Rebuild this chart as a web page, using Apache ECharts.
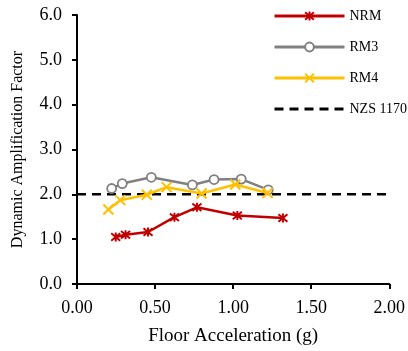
<!DOCTYPE html>
<html><head><meta charset="utf-8">
<script src="https://cdn.jsdelivr.net/npm/echarts@6/dist/echarts.min.js"></script>
<style>html,body{margin:0;padding:0;background:#fff}#c{width:408px;height:351px}</style>
</head><body><div id="c"></div>
<script>
const nrmX = [0.248, 0.311, 0.455, 0.624, 0.768, 1.027, 1.319];
const nrmY = [1.05, 1.10, 1.16, 1.49, 1.71, 1.53, 1.47];
const rm3X = [0.222, 0.290, 0.476, 0.739, 0.878, 1.052, 1.225];
const rm3Y = [2.13, 2.24, 2.38, 2.21, 2.33, 2.34, 2.10];
const rm4X = [0.201, 0.277, 0.447, 0.574, 0.798, 1.014, 1.221];
const rm4Y = [1.66, 1.87, 1.99, 2.16, 2.02, 2.22, 2.03];
const nzsX = [0, 2];
const nzsY = [2.0, 2.0];
const seriesNames = ['NRM', 'RM3', 'RM4', 'NZS 1170.5'];

const zip = (a, b) => a.map((v, i) => [v, b[i]]);
const font = 'Liberation Serif';
const chart = echarts.init(document.getElementById('c'));
const starPath = 'path://M0,0L10,10M10,0L0,10M5,-1L5,11';
const xPath = 'path://M0,0L10,10M10,0L0,10';
chart.setOption({
  animation: false,
  textStyle: {fontFamily: font},
  grid: {left: 77, right: 16, top: 15, bottom: 64, containLabel: false},
  legend: {
    orient: 'vertical', left: 273, top: 9, padding: 0, itemWidth: 70, itemHeight: 11, itemGap: 17,
    textStyle: {fontFamily: font, fontSize: 14, color: '#000'},
    lineStyle: {width: 3},
    data: seriesNames
  },
  xAxis: {
    type: 'value', min: 0, max: 2, interval: 0.5,
    name: 'Floor Acceleration (g)', nameLocation: 'middle', nameGap: 43,
    nameTextStyle: {fontFamily: font, fontSize: 19, color: '#000'},
    axisLine: {show: true, lineStyle: {color: '#000', width: 2}},
    axisTick: {show: true, length: 5, lineStyle: {color: '#000', width: 2}},
    axisLabel: {fontFamily: font, fontSize: 18, color: '#000', margin: 15, formatter: v => v.toFixed(2)},
    splitLine: {show: false}
  },
  yAxis: {
    type: 'value', min: 0, max: 6, interval: 1,
    name: 'Dynamic Amplification Factor', nameLocation: 'middle', nameGap: 51,
    nameTextStyle: {fontFamily: font, fontSize: 16, color: '#000'},
    axisLine: {show: true, lineStyle: {color: '#000', width: 2}},
    axisTick: {show: true, length: 5, lineStyle: {color: '#000', width: 2}},
    axisLabel: {fontFamily: font, fontSize: 18, color: '#000', margin: 15, formatter: v => v.toFixed(1)},
    splitLine: {show: false}
  },
  series: [
    {name: seriesNames[0], type: 'line', data: zip(nrmX, nrmY), symbol: starPath, symbolSize: 9,
     lineStyle: {color: '#C00000', width: 2.5}, itemStyle: {color: '#C00000', borderColor: '#C00000', borderWidth: 2}, z: 3},
    {name: seriesNames[1], type: 'line', data: zip(rm3X, rm3Y), symbol: 'circle', symbolSize: 9,
     lineStyle: {color: '#808080', width: 2.5}, itemStyle: {color: '#fff', borderColor: '#808080', borderWidth: 1.8}, z: 2},
    {name: seriesNames[2], type: 'line', data: zip(rm4X, rm4Y), symbol: xPath, symbolSize: 10,
     lineStyle: {color: '#FFC000', width: 2.5}, itemStyle: {color: '#FFC000', borderColor: '#FFC000', borderWidth: 2}, z: 4},
    {name: seriesNames[3], type: 'line', data: zip(nzsX, nzsY), symbol: 'circle', showSymbol: false, symbolSize: 0,
     lineStyle: {color: '#000', width: 2.5, type: [9, 6]}, itemStyle: {color: 'transparent', borderColor: 'transparent'}, z: 1}
  ]
});
</script></body></html>
